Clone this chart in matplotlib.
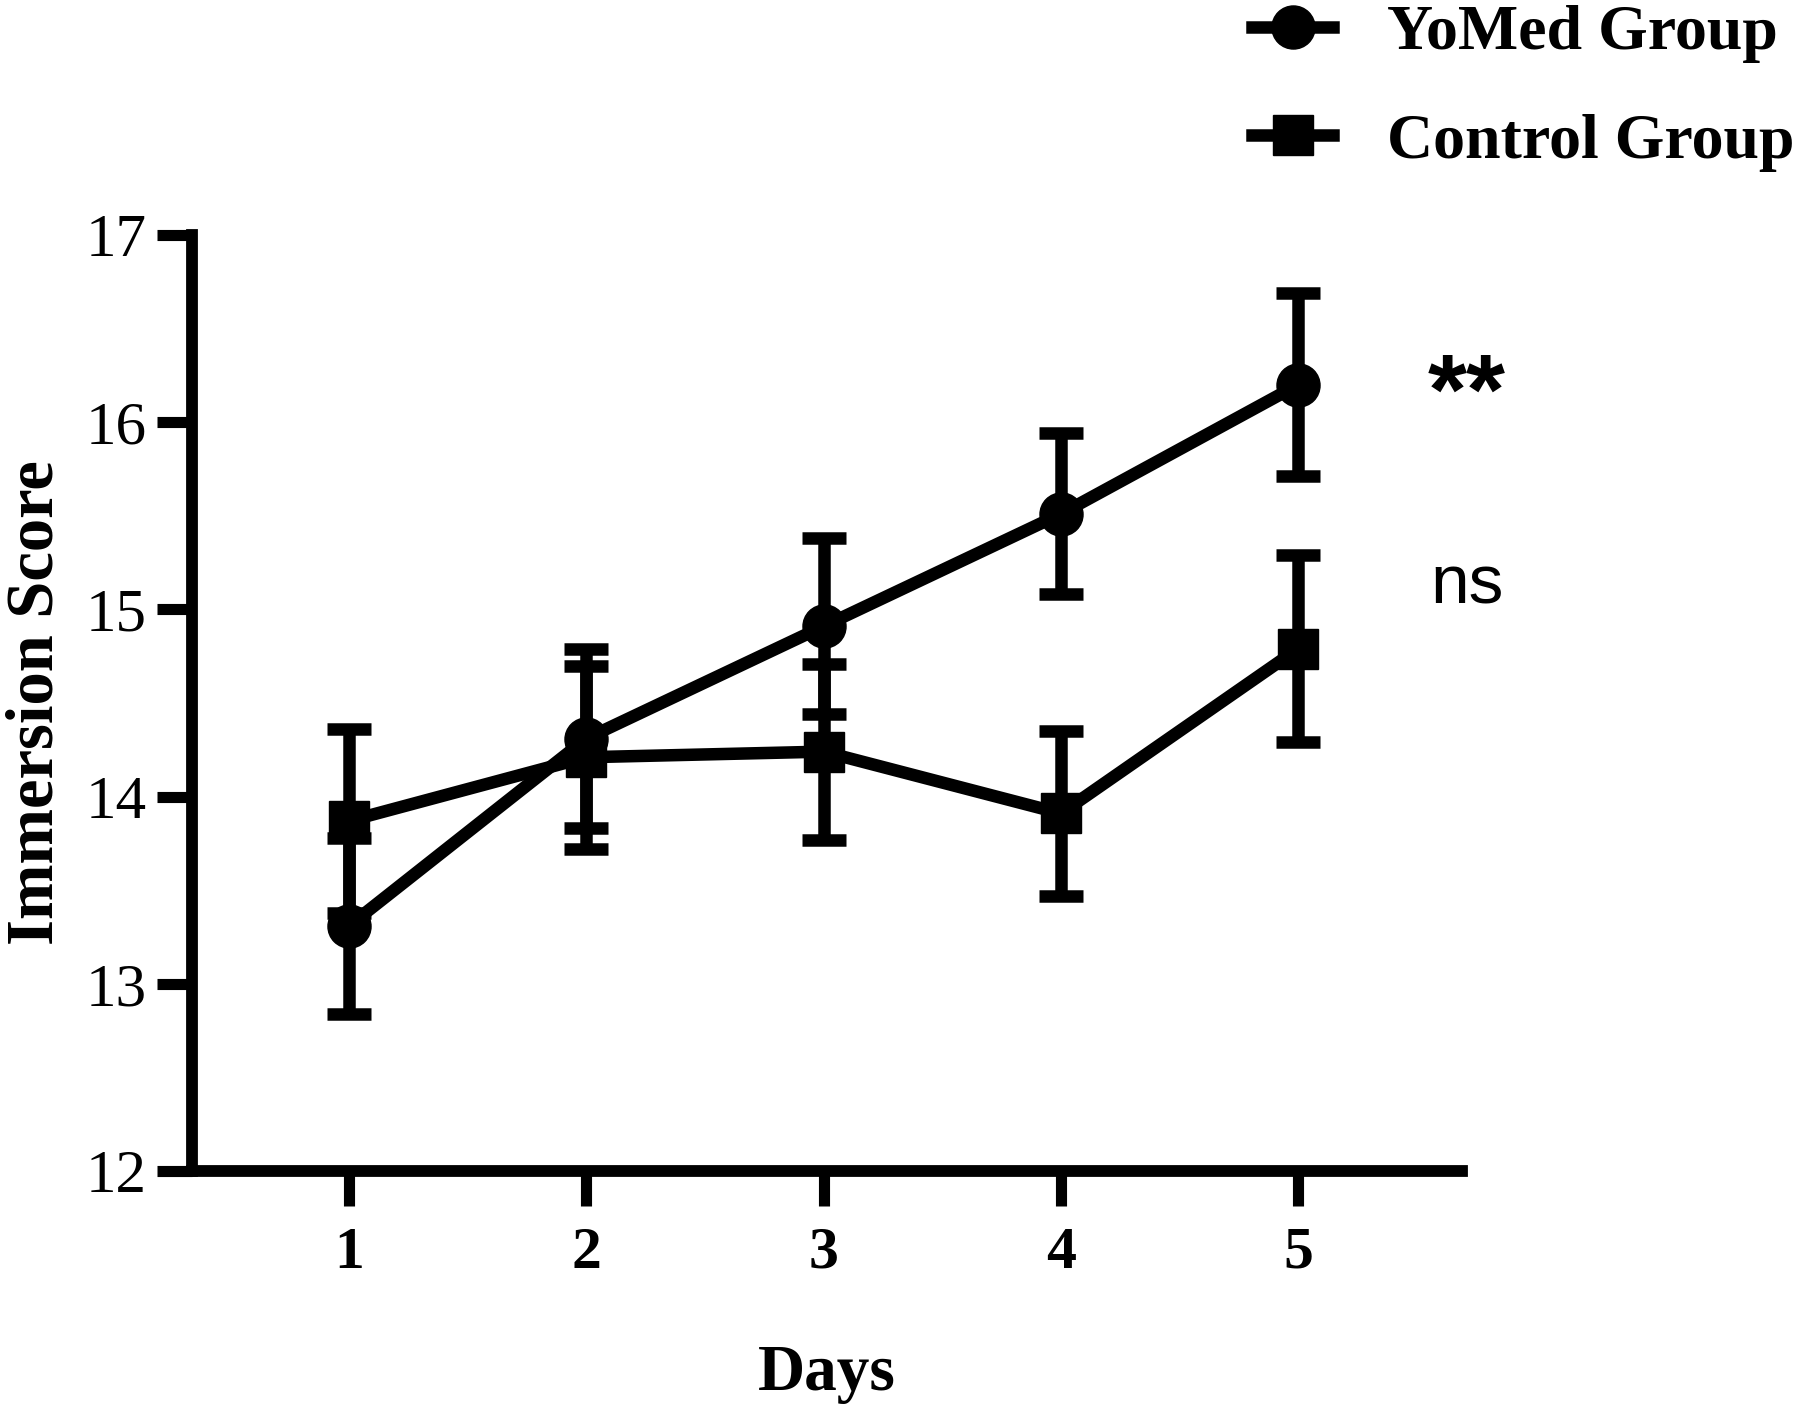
import matplotlib
matplotlib.use("Agg")
import matplotlib.pyplot as plt

# values
days = [1, 2, 3, 4, 5]
yomed_mean = [13.31, 14.31, 14.91, 15.51, 16.20]
yomed_err = [0.47, 0.48, 0.47, 0.43, 0.49]
control_mean = [13.87, 14.21, 14.24, 13.91, 14.79]
control_err = [0.49, 0.49, 0.47, 0.44, 0.50]
yticks = [12, 13, 14, 15, 16, 17]
sig_labels = ["**", "ns"]
sig_y = [16.13, 15.13]

serif = "Liberation Serif"
sans = "Liberation Sans"
lw = 9

fig = plt.figure(figsize=(18.04, 14.11), dpi=100)
ax = fig.add_axes([0.1067, 0.1701, 0.7037, 0.6634])

ax.errorbar(days, yomed_mean, yerr=yomed_err, fmt="none", ecolor="black",
            elinewidth=lw, capsize=16, capthick=lw, zorder=2)
ax.errorbar(days, control_mean, yerr=control_err, fmt="none", ecolor="black",
            elinewidth=lw, capsize=16, capthick=lw, zorder=2)
l1, = ax.plot(days, yomed_mean, color="black", lw=lw, marker="o", ms=31,
              label="YoMed Group", zorder=3)
l2, = ax.plot(days, control_mean, color="black", lw=lw, marker="s", ms=29,
              label="Control Group", zorder=3)

ax.set_xlim(0.34, 5.69)
ax.set_ylim(12, 17)
ax.set_xticks(days)
ax.set_yticks(yticks)

for side in ["top", "right"]:
    ax.spines[side].set_visible(False)
for side in ["left", "bottom"]:
    ax.spines[side].set_linewidth(8.5)

ax.tick_params(axis="both", length=25, width=8, direction="out", color="black")
ax.tick_params(axis="y", pad=8)
ax.tick_params(axis="x", pad=15)
for t in ax.get_yticklabels():
    t.set_fontfamily(serif)
    t.set_fontsize(44)
for t in ax.get_xticklabels():
    t.set_fontfamily(serif)
    t.set_fontsize(43)
    t.set_fontweight("bold")

ax.set_ylabel("Immersion Score", fontfamily=serif, fontweight="bold",
              fontsize=48, labelpad=14)
ax.set_xlabel("Days", fontfamily=serif, fontweight="bold", fontsize=47,
              labelpad=46)

ax.text(5.71, sig_y[0], sig_labels[0], fontfamily=sans, fontweight="bold",
        fontsize=72, ha="center", va="center", clip_on=False)
ax.text(5.71, sig_y[1], sig_labels[1], fontfamily=sans, fontsize=50,
        ha="center", va="center", clip_on=False)

fig.legend(handles=[l1, l2], loc="upper left",
           bbox_to_anchor=(1252 / 1804, 0.997), frameon=False,
           borderpad=0, borderaxespad=0, handlelength=1.27,
           handletextpad=0.85, labelspacing=0.78,
           prop={"family": serif, "weight": "bold", "size": 46})

fig.savefig("out.png", dpi=100)
